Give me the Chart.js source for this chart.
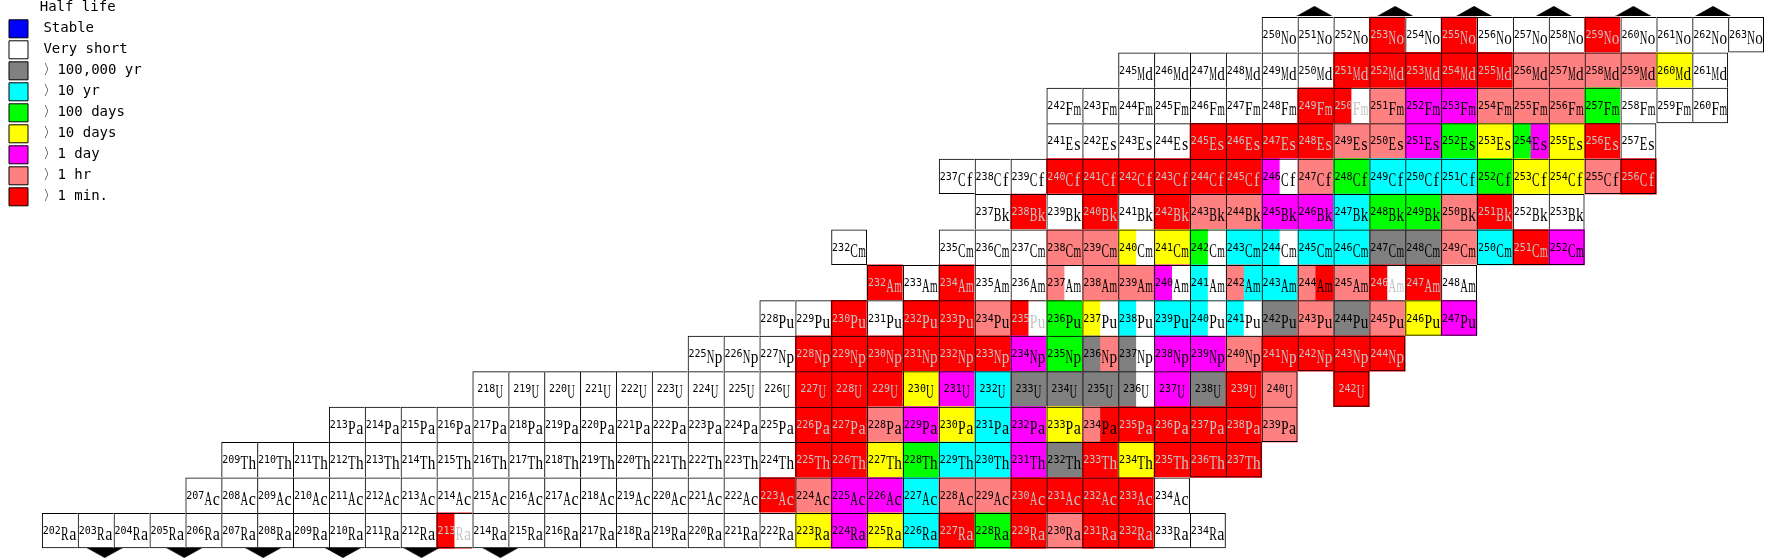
<!DOCTYPE html>
<html>
<head>
<meta charset="utf-8">
<title>Half lives, Ra to No</title>
<script src="https://cdn.jsdelivr.net/npm/chart.js@4.4.1/dist/chart.umd.min.js"></script>
<style>
  html, body { margin: 0; padding: 0; background: #fff; }
  #wrap { width: 1774px; height: 560px; }
</style>
</head>
<body>
<div id="wrap"><canvas id="chart" width="1774" height="560"></canvas></div>
<script>
// one row per element, one code per isotope starting at firstMass
// W very short, K >100,000 yr, C >10 yr, G >100 days, Y >10 days,
// M >1 day, P >1 hr, R >1 min ; "A/B" = cell split in two, null = no cell
const symbols = ["Ra", "Ac", "Th", "Pa", "U", "Np", "Pu", "Am", "Cm", "Bk", "Cf", "Es", "Fm", "Md", "No"];
const protons = [88, 89, 90, 91, 92, 93, 94, 95, 96, 97, 98, 99, 100, 101, 102];
const firstMass = [202, 207, 209, 213, 218, 225, 228, 232, 232, 237, 237, 241, 242, 245, 250];

const raCells = ["W","W","W","W","W","W","W","W","W","W","W","R/W","W","W","W","W","W","W","W","W","W",
  "Y","M","Y","C","R","G","R","P","R","R","W","W"];
const acCells = ["W","W","W","W","W","W","W","W","W","W","W","W","W","W","W","W",
  "R","P","M","M","C","P","P","R","R","R","R","W"];
const thCells = ["W","W","W","W","W","W","W","W","W","W","W","W","W","W","W","W",
  "R","R","Y","G","C","C","M","K","R","Y","R","R","R"];
const paCells = ["W","W","W","W","W","W","W","W","W","W","W","W","W",
  "R","R","P","M","Y","C","M","Y","P/R","R","R","R","R","P"];
const uCells = ["W","W","W","W","W","W","W","W","W",
  "R","R","R","Y","M","C","K","K","K","K/W","M","K","R","P",null,"R"];
const npCells = ["W","W","W","R","R","R","R","R","R","M","G","K/P","K/W","M","M","P","R","R","R","R"];
const puCells = ["W","W","R","W","R","R","P","R/W","G","Y/W","C/W","C","C/W","C/W","K","P","K","P","Y","M"];
const amCells = ["R","W","R","W","W","P/W","P","P","M/W","C/W","P/C","C","P/R","P","R/W","R","W"];
const cmCells = ["W",null,null,"W","W","W","P","P","Y/W","Y","G/W","C","C/W","C","C","K","K","P","C","R","M"];
const bkCells = ["W","R","W","R","W","R","P","P","M","M","C","G","G","P","R","W","W"];
const cfCells = ["W","W","W","R","R","R","R","R","R","M/W","P","G","C","C","C","G","Y","Y","P","R"];
const esCells = ["W","W","W","W","R","R","R","R","P","P","M","G","Y","G/M","Y","R","W"];
const fmCells = ["W","W","W","W","W","W","W","R","R/W","P","M","M","P","P","P","G","W","W","W"];
const mdCells = ["W","W","W","W","W","W","R","R","R","R","R","P","P","P","P","Y","W"];
const noCells = ["W","W","W","R","W","R","W","W","W","R","W","W","W","W"];
const halfLives = [raCells, acCells, thCells, paCells, uCells, npCells, puCells, amCells,
  cmCells, bkCells, cfCells, esCells, fmCells, mdCells, noCells];

const legendLabels = ["Stable", "Very short", "〉100,000 yr", "〉10 yr", "〉100 days",
  "〉10 days", "〉1 day", "〉1 hr", "〉1 min."];
const legendCodes = ["B", "W", "K", "C", "G", "Y", "M", "P", "R"];

// the little black arrows above and below the table (neutron number units)
const arrowsTopN = [148.97, 151.22, 153.42, 155.64, 157.86, 160.08];
const arrowsBottomN = [115.25, 117.47, 119.67, 121.89, 124.08, 126.28];
const arrowTopZ = 102.67;
const arrowBottomZ = 87.37;

const palette = {
  B: "#0000ff", W: "#ffffff", K: "#808080", C: "#00ffff", G: "#00ff00",
  Y: "#ffff00", M: "#ff00ff", P: "#ff8080", R: "#ff0000"
};

const firstN = 113;
const neutrons = Array.from({ length: 49 }, (_, i) => firstN + i);

function cellCode(row, n) {
  if (row < 0) return null;
  const k = n + protons[row] - firstMass[row];
  return halfLives[row][k] || null;
}

const span = (row) => [protons[row] - 0.5, protons[row] + 0.5];

// whole cells, coloured with the (left) half life class
const fills = symbols.map((sym, row) => ({
  label: sym,
  data: neutrons.map(n => cellCode(row, n) ? span(row) : null),
  backgroundColor: neutrons.map(n => {
    const c = cellCode(row, n);
    return c ? palette[c.split("/")[0]] : "transparent";
  }),
  borderWidth: 0,
  grouped: false,
  order: 3
}));

// right half of the split cells, on the numeric twin of the x axis
const halves = symbols.map((sym, row) => {
  const pts = [];
  const colors = [];
  neutrons.forEach(n => {
    const c = cellCode(row, n);
    if (c && c.includes("/")) {
      pts.push({ x: n + 0.25, y: span(row) });
      colors.push(palette[c.split("/")[1]]);
    }
  });
  return {
    label: sym + " isomer",
    xAxisID: "xt",
    data: pts,
    backgroundColor: colors,
    borderWidth: 0,
    grouped: false,
    barThickness: 18,
    inflateAmount: 0,
    order: 2
  };
});

const borders = symbols.map((sym, row) => ({
  label: sym + " frame",
  data: neutrons.map(n => cellCode(row, n) ? span(row) : null),
  backgroundColor: "rgba(0,0,0,0)",
  borderColor: "#000",
  borderWidth: (c) => {
    if (c.dataIndex === undefined) return 1;
    const n = firstN + c.dataIndex;
    return {
      top: 1, left: 1,
      right: cellCode(row, n + 1) ? 0 : 1,
      bottom: cellCode(row - 1, n) ? 0 : 1
    };
  },
  borderSkipped: false,
  inflateAmount: 0,
  grouped: false,
  order: 1
}));

function arrowImage(up) {
  const c = document.createElement("canvas");
  c.width = 36;
  c.height = 10;
  const g = c.getContext("2d");
  g.fillStyle = "#000";
  g.beginPath();
  if (up) {
    g.moveTo(0, 10); g.lineTo(18, 0); g.lineTo(36, 10);
  } else {
    g.moveTo(0, 0); g.lineTo(18, 10); g.lineTo(36, 0);
  }
  g.closePath();
  g.fill();
  return c;
}

const arrows = [
  { pts: arrowsTopN, z: arrowTopZ, img: arrowImage(true) },
  { pts: arrowsBottomN, z: arrowBottomZ, img: arrowImage(false) }
].map(a => ({
  type: "scatter",
  label: "",
  xAxisID: "xt",
  yAxisID: "y",
  data: a.pts.map(x => ({ x: x, y: a.z })),
  pointStyle: a.img,
  pointRadius: 5,
  clip: false,
  order: 0
}));

const SLOT = 8;
const massFont = '10px "DejaVu Sans Mono"';
const symbolFont = '19px "Liberation Serif"';

const cellText = {
  id: "cellText",
  afterDatasetsDraw(chart) {
    const ctx = chart.ctx;
    ctx.save();
    ctx.textBaseline = "alphabetic";
    symbols.forEach((sym, row) => {
      const bars = chart.getDatasetMeta(row).data;
      halfLives[row].forEach((code, k) => {
        if (!code) return;
        const n = firstMass[row] + k - protons[row];
        const bar = bars[n - firstN];
        const p = bar.getProps(["x", "y", "base"], true);
        const cy = (p.y + p.base) / 2;
        const mass = String(firstMass[row] + k);
        ctx.fillStyle = code[0] === "R" ? "#c4c4c4" : "#000";
        ctx.font = massFont;
        ctx.textAlign = "left";
        const mw = ctx.measureText(mass).width;
        let left = p.x - (mw + sym.length * SLOT) / 2;
        ctx.fillText(mass, left, cy + 3.5);
        left += mw;
        ctx.font = symbolFont;
        ctx.textAlign = "center";
        for (const ch of sym) {
          const w = ctx.measureText(ch).width;
          const s = Math.min(0.85, (SLOT - 0.4) / w);
          ctx.save();
          ctx.translate(left + SLOT / 2, cy + 9.5);
          ctx.scale(s, 1);
          ctx.fillText(ch, 0, 0);
          ctx.restore();
          left += SLOT;
        }
      });
    });
    ctx.restore();
  }
};

new Chart(document.getElementById("chart"), {
  type: "bar",
  data: {
    labels: neutrons,
    datasets: [...fills, ...halves, ...borders, ...arrows]
  },
  options: {
    responsive: false,
    animation: false,
    events: [],
    layout: { padding: { left: 0, right: 10, top: 0, bottom: 0 } },
    datasets: { bar: { barPercentage: 1, categoryPercentage: 1 } },
    scales: {
      x: { type: "category", offset: true, display: false, grid: { display: false } },
      xt: { type: "linear", min: 112.5, max: 161.5, offset: false, display: false, grid: { offset: false } },
      y: { type: "linear", min: 87.34, max: 102.81, display: false }
    },
    plugins: {
      tooltip: { enabled: false },
      legend: {
        position: "chartArea",
        align: "start",
        onClick: null,
        title: {
          display: true,
          text: "    Half life",
          position: "start",
          color: "#000",
          padding: 0,
          font: { family: '"DejaVu Sans Mono"', size: 14 }
        },
        labels: {
          boxWidth: 19,
          boxHeight: 18,
          padding: 3,
          color: "#000",
          font: { family: '"DejaVu Sans Mono"', size: 14 },
          generateLabels: () => legendLabels.map((t, i) => ({
            text: " " + t,
            fillStyle: palette[legendCodes[i]],
            strokeStyle: "#000",
            lineWidth: 1,
            hidden: false,
            fontColor: "#000",
            datasetIndex: i
          }))
        }
      }
    }
  },
  plugins: [cellText]
});
</script>
</body>
</html>
